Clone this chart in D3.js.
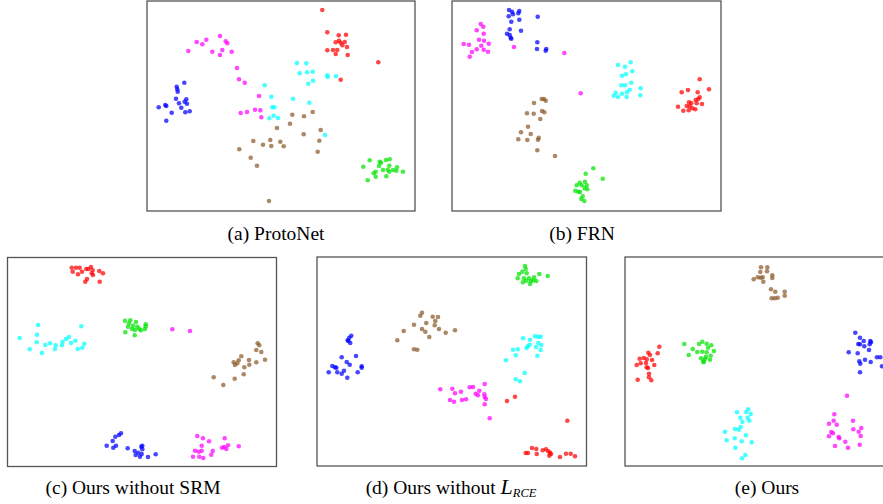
<!DOCTYPE html>
<html>
<head>
<meta charset="utf-8">
<script src="https://cdn.jsdelivr.net/npm/d3@7"></script>
<style>
  html, body { margin: 0; padding: 0; background: #fff; }
  svg { display: block; }
  .cap { font-family: "Liberation Serif", "Times New Roman", serif; font-size: 19.5px; fill: #000; }
</style>
</head>
<body>
<svg id="fig" width="883" height="504"></svg>
<script>
// 2-D t-SNE embeddings of query features, one array per class per method.
// Coordinates are in each panel's embedding units (x right, y down).

const classes = ["blue", "magenta", "cyan", "red", "green", "brown"];
const classColors = ["#0000ff", "#ff00ff", "#00ffff", "#ff0000", "#00e400", "#8b5a2b"];

// (a) ProtoNet
const protoBlue = [[37.3,81.7],[29.7,85.7],[30.3,88.3],[30.7,90.7],[29,97.7],[39.3,98.3],[37.7,100.7],[32,102.3],[40,102.7],[18.3,104],[19.3,105],[11.7,106.3],[34.3,106.7],[24.7,111.7],[38.3,111.3],[42.7,110.3],[19.3,119.7]];
const protoMagenta = [[73,35],[49.7,41],[55.3,43.3],[59.3,38.7],[78.7,40.3],[80.3,42.3],[41.3,50],[65.3,50.7],[75.3,49],[73,54],[84.7,50.7],[90,67],[92,78.3],[97.7,81.7],[112,95],[93.7,112],[100,111],[108,108.7],[113.3,109.3],[114.3,116.3]];
const protoCyan = [[117.7,84.3],[124.3,95.7],[146,97.7],[125.3,106.3],[127.3,106.3],[126.7,114.7],[122.3,117.3],[131,117],[150,62],[159.3,62.3],[152.7,72.3],[160,71.3],[165.7,70.7],[166,79.7],[161.3,82.7],[180.3,74.3],[180.7,76],[189,75.3],[162.3,101.7],[178,134]];
const protoRed = [[175.3,9],[180.3,31.3],[191.7,34.3],[199,33.7],[188.7,41.3],[192,39.7],[193.7,41.7],[197.7,41],[195.3,44.3],[200,46],[180.3,49.3],[186,49],[190.3,49],[188.7,53],[200.7,54],[231.3,61.3],[193.7,78.7]];
const protoGreen = [[222.7,159.3],[216.3,165.7],[232.7,160.7],[234,161.7],[239,159],[242.7,158.3],[232,165],[242.3,164.7],[236,169],[240.7,168.7],[246,169],[249.3,169.7],[250,166.3],[256,170.7],[242.3,170.7],[226.7,172.3],[228.7,170.7],[228.7,175.7],[239.3,175.3],[220.7,179.3]];
const protoBrown = [[145.3,113.7],[143,122.7],[130,127],[106.3,140],[123.3,139],[116,143.7],[124.3,145],[133.3,140.7],[136.7,145.3],[92.3,148.3],[103.7,156.7],[110,164.7],[122,200],[157,115.3],[165.7,111],[173.7,129],[156.7,133.3],[172.3,139.7],[170.7,150.7]];

// (b) FRN
const frnBlue = [[57,9],[60,10.7],[67.3,10],[66.3,12.3],[61,13.3],[56.7,15.3],[67.3,18.7],[59.3,20.7],[85.7,15.7],[57.7,28.3],[69,29.7],[55,32.7],[57.7,34],[58.7,36.7],[59.3,37.7],[85.3,41.3],[85,48],[94.3,48],[93.7,49.7]];
const frnMagenta = [[28.7,23],[31.3,25.7],[24.7,29.3],[31.7,32.7],[27,38.7],[32,39.7],[36.7,42.7],[11.7,43],[17,43.7],[29.3,44.7],[24.7,48.3],[31.7,48.7],[36,50.7],[20,51],[17.7,55.7],[62,46],[112.3,52],[128.7,92.3]];
const frnCyan = [[166,64],[173,65.7],[178.7,61.3],[180.3,70.3],[170,74.7],[174,73.3],[169.3,84.3],[173,84.3],[179.3,81.7],[188.7,87.3],[177.7,88.7],[175,91.3],[163.7,91.7],[161.7,94.7],[166,96],[170,92.7],[174.7,96],[188.3,94.3]];
const frnRed = [[247.7,78.3],[257,88.3],[229.7,91.3],[236,89],[245.7,91.3],[247.7,96.3],[246.3,98],[243.7,99],[237,101.3],[239.3,102.3],[244.7,102.3],[250,103],[234.7,105],[237.7,105.3],[226,105.7],[240.3,107.3],[243.3,108.3],[231.3,109.7],[236.7,109.3]];
const frnGreen = [[141.3,167.3],[133.7,172.7],[127.7,181.7],[133,180.7],[124.7,184.3],[129.7,184.3],[134.7,184.3],[132.7,187.3],[123.3,189.7],[128,191],[135.3,188.3],[126.3,190.7],[130.7,195.3],[129.3,198],[132.3,200],[150.7,177.7]];
const frnBrown = [[89.7,98],[92,98],[93.7,99.7],[82,102],[90,110],[92.3,111.3],[75,112.3],[81.7,112.7],[88.3,118],[76,125.7],[69,131.3],[78.7,133],[66.3,138.3],[75.3,139],[86,138.7],[86.7,136.7],[85.3,149.3],[103,155]];

// (c) Ours without SRM
const noSrmBlue = [[113.5,175.8],[111.5,177.5],[107.8,179.2],[105.2,183.5],[99.2,188.2],[108.5,188.2],[105.8,190.2],[120.2,190.8],[133.8,189.2],[127.2,193.5],[130.8,195.2],[128.2,197.5],[132.5,199.2],[134.8,188.2],[134.8,191.8],[134.2,196.5],[140.5,199.5],[148.2,196.8]];
const noSrmMagenta = [[164.8,71.8],[182.5,73.5],[189.8,178.5],[195.5,180.8],[201.5,183.8],[217.2,180.8],[194.2,188.2],[187.5,193.2],[191.2,194.2],[194.2,193.2],[205.2,193.5],[203.8,197.2],[214.5,190.2],[216.8,189.5],[220.5,187.8],[218.8,191.5],[231.2,188.8],[185.5,199.2],[191.8,199.2],[195.8,200.5]];
const noSrmCyan = [[30.5,67.5],[73.8,68.8],[29.5,77.2],[12.2,80.5],[61.5,79.5],[58.5,81.5],[55.2,84.2],[54.5,87.8],[67.8,83.2],[63.5,85.5],[29.2,84.8],[42.5,85.8],[37.8,87.5],[48.2,87.8],[47.5,91.5],[76.8,86.2],[74.8,90.2],[70.2,91.5],[22.2,91.8],[34.5,95.5]];
const noSrmRed = [[64.2,10.2],[68.5,10.2],[72.2,10.2],[78.8,11.5],[83.5,9.5],[80.8,11.5],[85.2,12.8],[65.2,14.2],[74.5,14.2],[91.8,13.5],[95.5,15.8],[70.5,16.8],[85.5,17.5],[84.2,15.8],[79.5,21.5],[77.8,24.2],[92.2,24.2]];
const noSrmGreen = [[117.5,63.2],[122.8,62.8],[128.5,64.5],[120.5,69.2],[125.5,68.2],[129.8,69.2],[124.5,71.5],[127.5,72.5],[131.8,71.5],[133.5,72.8],[117.8,74.8],[127.2,77.8],[121.5,65.8],[138.2,66.8],[138.2,68.8],[137.5,71.5]];
const noSrmBrown = [[250.2,85.8],[251.8,87.8],[248.8,92.5],[253.8,94.5],[233.8,98.8],[231.2,102.8],[226.2,104.8],[229.8,105.8],[227.5,107.5],[241.5,102.5],[248.8,104.8],[257.5,102.2],[241.8,107.2],[236.8,109.8],[236.2,116.8],[227.2,121.2],[206.2,119.8],[215.8,127.5]];

// (d) Ours without L_RCE
const noRceBlue = [[34.3,78.7],[32.3,80.7],[30.7,83.3],[33.3,86],[31.3,84],[24.7,100.3],[39,99],[29.7,105],[32.7,107.7],[15.3,109],[18,110.3],[19.3,110.7],[44.7,109.3],[44.7,110.7],[27,113.7],[11.7,115.3],[20.3,115.3],[24.7,116.7],[40.7,115.3],[30.3,120.7]];
const noRceMagenta = [[123.3,132.3],[135.3,131.7],[144,134.7],[138,136.3],[133,143],[137,144.7],[145,143],[149,142.3],[152.7,130.3],[156,130],[162.3,133.7],[167.7,127],[158.7,136.7],[161,138.3],[167.3,137.3],[167.7,140],[169,142],[167.7,147.3],[172.7,161.3]];
const noRceCyan = [[206,81.3],[213,82.7],[218,79.3],[221.3,79.7],[223.7,79.7],[221.3,86],[224.3,88],[212.7,87.7],[210.7,89.3],[209.7,91],[219,90],[223.7,93],[196,92.7],[200.7,92.3],[198.7,98.3],[220.3,98.7],[189,103.3],[207.7,116],[198.7,122.3],[203,124.3]];
const noRceRed = [[190,144],[198,139.7],[250.3,163.7],[215,191],[208.7,196],[211,196],[219.3,192],[219.7,197],[225.7,193.3],[229,192.3],[231.3,194.3],[233,195.7],[232.3,198.7],[234,197],[243,200],[249,196.7],[253.7,196.7],[258,199.3]];
const noRceGreen = [[208,9],[208.7,12],[205.3,14.7],[202,17],[209.7,16.3],[222.3,17],[230.7,19],[200.7,21.3],[207,21.3],[212,21.3],[217,20.3],[206,25.3],[209.3,23.7],[214,24],[216.3,23.3],[219.3,24],[213,27]];
const noRceBrown = [[105,55.7],[103.3,58.7],[115.7,59.7],[121,60],[118.3,64],[117.7,68.3],[97,67.7],[109.3,66],[105,72],[108.3,74.7],[122,72],[128.7,75.7],[86.7,74],[112.3,80],[80.3,83.3],[97,92.3],[100.3,92.7],[138,73.3]];

// (e) Ours
const oursBlue = [[230.3,75.7],[235,80.7],[238.7,84],[245.3,84],[246,85.3],[244.7,87.3],[233.3,87],[235,87.3],[239.3,89.3],[244,93],[223.7,95.3],[232.7,96.3],[252,100.3],[255.3,100.3],[234.3,104.3],[235.3,106.7],[240,102.7],[245.7,105],[257,109.3],[235,115.3]];
const oursMagenta = [[222,138.7],[209.3,157.3],[204,166.7],[208.7,163.7],[211.7,167.7],[228,163.7],[236.3,171],[228.3,172.3],[233.7,174.7],[206.3,175],[208,176.3],[204,179.3],[213.7,180],[214.3,181.3],[235.7,179],[220.3,184.7],[210,189],[223,190.7],[234.7,187.7]];
const oursCyan = [[123.3,152.3],[121.3,155],[112,155.3],[125.7,157],[115.3,160.7],[122.7,160.7],[117.3,164.7],[124.3,163.7],[115.7,170],[110,172],[113.7,172.7],[100,174.7],[121,178.3],[109.7,181.3],[101.7,183.3],[116.7,184.3],[126.7,185.3],[110.3,190.7],[120.3,198],[117,201.3]];
const oursRed = [[34.3,89.7],[32.7,96.3],[23.3,95.7],[25,98],[14.7,101.7],[18.7,101],[21.7,102.3],[27,103],[15.7,106.3],[11.7,108],[21,106],[29.3,108],[21.7,110.3],[23,111],[24,116.7],[24,120.3],[26.3,123.3],[12.7,122.7]];
const oursGreen = [[59.3,87],[74,87],[77.3,84.7],[81.7,86.7],[86.3,88.3],[67.7,92],[72.3,95],[77.3,94.7],[81.7,95.3],[89,94],[63.7,98],[85.7,98.7],[81,99.7],[76,101.3],[80,102],[85,102.7],[78.3,104.3],[78.7,105.3],[83,90.7]];
const oursBrown = [[136,10.3],[142.3,10.3],[135.3,15],[142,14.3],[147.3,18.3],[147.3,21],[128.7,22.3],[132.7,20.3],[135.7,20.7],[137.7,20.3],[138.3,24.7],[146,32.3],[150.3,34.7],[159.7,34.7],[159.7,38.7],[146.7,41.3],[149.7,41.3],[152.7,40.7]];

// Panel captions
const captions = ["(a) ProtoNet", "(b) FRN", "(c) Ours without SRM", "(d) Ours without ", "(e) Ours"];

// Panel layout: frame box and caption anchor
const panels = [
  { box: [147, 1, 268, 210],     cap: [276, 240],   sets: [protoBlue, protoMagenta, protoCyan, protoRed, protoGreen, protoBrown] },
  { box: [452, 1, 269, 210],     cap: [582, 240],   sets: [frnBlue, frnMagenta, frnCyan, frnRed, frnGreen, frnBrown] },
  { box: [7.5, 257.5, 269, 209], cap: [133, 493.5], sets: [noSrmBlue, noSrmMagenta, noSrmCyan, noSrmRed, noSrmGreen, noSrmBrown] },
  { box: [317, 257, 269.5, 209], cap: [451, 493.5], sets: [noRceBlue, noRceMagenta, noRceCyan, noRceRed, noRceGreen, noRceBrown] },
  { box: [625, 257, 269, 209],   cap: [767, 493.5], sets: [oursBlue, oursMagenta, oursCyan, oursRed, oursGreen, oursBrown] }
];

const svg = d3.select("#fig");
const color = d3.scaleOrdinal().domain(classes).range(classColors);

panels.forEach((p, i) => {
  const [bx, by, bw, bh] = p.box;
  const x = d3.scaleLinear().domain([0, bw]).range([bx, bx + bw]);
  const y = d3.scaleLinear().domain([0, bh]).range([by, by + bh]);

  const g = svg.append("g");
  g.append("rect")
    .attr("x", bx).attr("y", by).attr("width", bw).attr("height", bh)
    .attr("fill", "#fff").attr("stroke", "#555").attr("stroke-width", 1.3);

  p.sets.forEach((pts, ci) => {
    g.selectAll(null).data(pts).enter().append("circle")
      .attr("cx", d => x(d[0]))
      .attr("cy", d => y(d[1]))
      .attr("r", 2.3)
      .attr("fill", color(classes[ci]))
      .attr("fill-opacity", 0.72);
  });

  const t = svg.append("text").attr("class", "cap")
    .attr("x", p.cap[0]).attr("y", p.cap[1])
    .attr("text-anchor", "middle")
    .text(captions[i]);
  if (i === 3) {
    t.append("tspan").attr("font-style", "italic").attr("font-size", "22px").text("L");
    t.append("tspan").attr("font-style", "italic").attr("font-size", "12.5px").attr("dy", 3.5).text("RCE");
  }
});
</script>
</body>
</html>
